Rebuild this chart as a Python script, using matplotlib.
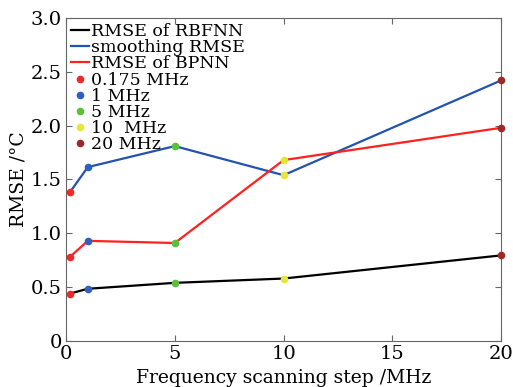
import numpy as np
import matplotlib
matplotlib.use('Agg')
import matplotlib.pyplot as plt

plt.rcParams['font.family'] = 'DejaVu Serif'

# frequency scanning steps (MHz)
steps = [0.175, 1, 5, 10, 20]
step_labels = ['0.175 MHz', '1 MHz', '5 MHz', '10  MHz', '20 MHz']
step_colors = ['#f02828', '#2f5fc0', '#5cbf3c', '#e8e634', '#9a2a2a']

# RMSE values
rmse_rbfnn = [0.44, 0.485, 0.54, 0.58, 0.795]
rmse_smooth = [1.38, 1.615, 1.81, 1.54, 2.42]
rmse_bpnn = [0.78, 0.93, 0.91, 1.68, 1.98]

fig = plt.figure(figsize=(5.13, 3.87), dpi=100)
ax = fig.add_axes([0.1287, 0.1189, 0.848, 0.8346])

ax.plot(steps, rmse_rbfnn, color='black', lw=1.6, label='RMSE of RBFNN')
ax.plot(steps, rmse_smooth, color='#2352b0', lw=1.6, label='smoothing RMSE')
ax.plot(steps, rmse_bpnn, color='#ff2020', lw=1.6, label='RMSE of BPNN')

# coloured dots for each step
for i in range(len(steps)):
    for series in (rmse_rbfnn, rmse_smooth, rmse_bpnn):
        ax.plot(steps[i], series[i], 'o', color=step_colors[i], ms=4.5,
                zorder=3, clip_on=False)
    ax.plot([], [], 'o', color=step_colors[i], ms=4.5, label=step_labels[i])

ax.set_xlim(0, 20)
ax.set_ylim(0, 3.0)
ax.set_xticks([0, 5, 10, 15, 20])
ax.set_xticklabels(['0', '5', '10', '15', '20'])
ax.set_yticks([0, 0.5, 1.0, 1.5, 2.0, 2.5, 3.0])
ax.set_yticklabels(['0', '0.5', '1.0', '1.5', '2.0', '2.5', '3.0'])
ax.tick_params(direction='in', top=True, right=True, labelsize=14,
               color='#666666', length=4, pad=3)
for s in ax.spines.values():
    s.set_color('#666666')

ax.set_xlabel('Frequency scanning step /MHz', fontsize=13.5, labelpad=4)
ax.set_ylabel('RMSE /°C', fontsize=13.5, labelpad=2)

ax.legend(loc='upper left', frameon=False, fontsize=12.5, handlelength=1.0,
          handletextpad=0.15, labelspacing=-0.05, borderaxespad=0.3,
          borderpad=0.0)

fig.savefig('out.png', dpi=100)
